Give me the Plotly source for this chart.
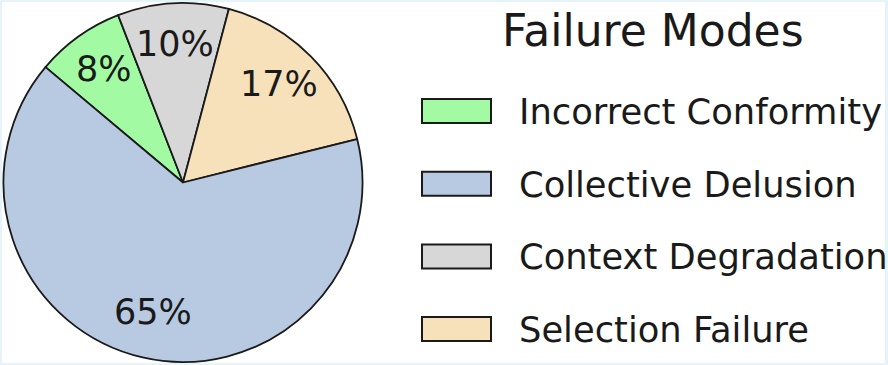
import math
import plotly.graph_objects as go

W, H = 888, 365

# ---- data (legend order) ----
labels = ["Incorrect Conformity", "Collective Delusion", "Context Degradation", "Selection Failure"]
values = [8, 65, 10, 17]
colors = ["#a2fba2", "#b8cae1", "#d7d7d7", "#f6e1bb"]
legend_title = "Failure Modes"
# order of slices going clockwise around the pie
pie_order = [0, 2, 3, 1]
start_angle = 140.0  # degrees, math convention (0 = 3 o'clock, CCW) where the first slice begins

EDGE = "#1a1a1a"
TXT = "#1a1a1a"
FONT = "DejaVu Sans"

def px(x):
    return x / W

def py(y):
    return 1 - y / H

cx, cy, r = 183.0, 182.5, 179.5

fig = go.Figure()
fig.add_trace(go.Pie(
    labels=[labels[i] for i in pie_order],
    values=[values[i] for i in pie_order],
    marker=dict(colors=[colors[i] for i in pie_order], line=dict(color=EDGE, width=1.8)),
    sort=False,
    direction="clockwise",
    rotation=90 - start_angle,
    textinfo="none",
    hoverinfo="label+percent",
    showlegend=False,
    domain=dict(x=[px(cx - r), px(cx + r)], y=[py(cy + r), py(cy - r)]),
))

annotations = []
shapes = []

# percentage labels placed along each slice's mid-angle
total = float(sum(values))
ang = start_angle
for i in pie_order:
    span = values[i] / total * 360.0
    mid = math.radians(ang - span / 2)
    ang -= span
    d = 0.755 * r
    tx = cx + d * math.cos(mid)
    ty = cy - d * math.sin(mid) - 3
    annotations.append(dict(
        x=px(tx), y=py(ty), xref="paper", yref="paper",
        text=f"{values[i] / total * 100:.0f}%", showarrow=False,
        xanchor="center", yanchor="middle",
        font=dict(family=FONT, size=35, color=TXT),
    ))

# legend (manual, wide patches)
lx0, lx1 = 422, 491
row0, step, ph = 111, 72.7, 24
for k, lab in enumerate(labels):
    yc = row0 + k * step
    shapes.append(dict(
        type="rect", xref="paper", yref="paper",
        x0=px(lx0), x1=px(lx1), y0=py(yc - ph / 2), y1=py(yc + ph / 2),
        fillcolor=colors[k], line=dict(color=EDGE, width=2),
    ))
    annotations.append(dict(
        x=px(517), y=py(yc + 0.5), xref="paper", yref="paper",
        text=lab, showarrow=False, xanchor="left", yanchor="middle",
        font=dict(family=FONT, size=35.3, color=TXT),
    ))

annotations.append(dict(
    x=px(500), y=py(30), xref="paper", yref="paper",
    text=legend_title, showarrow=False, xanchor="left", yanchor="middle",
    font=dict(family=FONT, size=44, color=TXT),
))

# light frame around the image
BORDER = "#e6f3fb"
for (x0, y0, x1, y1) in [(0, 0, 2, H), (885, 0, W, H), (0, 0, W, 2), (0, 363, W, H)]:
    shapes.append(dict(
        type="rect", xref="paper", yref="paper", layer="above",
        x0=px(x0), x1=px(x1), y0=py(y1), y1=py(y0),
        fillcolor=BORDER, line=dict(width=0),
    ))

fig.update_layout(
    width=W, height=H,
    margin=dict(l=0, r=0, t=0, b=0),
    paper_bgcolor="white",
    plot_bgcolor="white",
    annotations=annotations,
    shapes=shapes,
    font=dict(family=FONT),
)

fig.write_html(
    "out.html",
    config={"displayModeBar": False},
    post_script="document.body.style.margin='0';document.body.style.overflow='hidden';",
)
